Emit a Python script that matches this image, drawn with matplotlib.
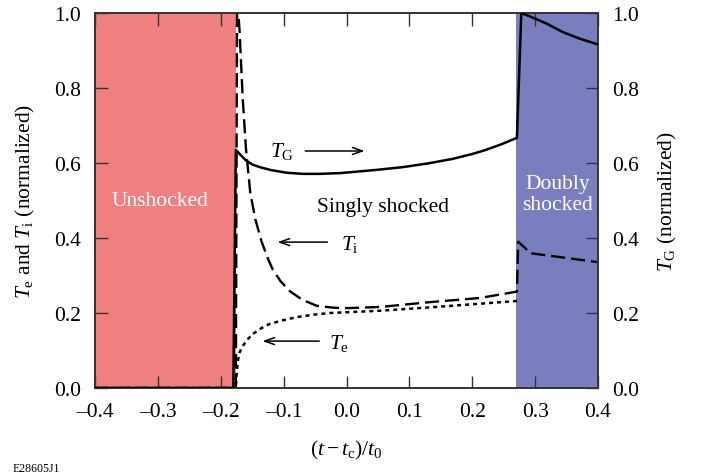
import matplotlib
matplotlib.use("Agg")
import matplotlib.pyplot as plt

plt.rcParams['font.family'] = ['Liberation Serif', 'DejaVu Serif']
plt.rcParams['mathtext.fontset'] = 'custom'
plt.rcParams['mathtext.rm'] = 'Liberation Serif'
plt.rcParams['mathtext.it'] = 'Liberation Serif:italic'

# region boundaries (normalized time)
shock1 = -0.176
shock2 = 0.270

# T_G (right axis)
tg_x = [-0.4, -0.180, -0.176, -0.170, -0.160, -0.150, -0.138, -0.120, -0.095, -0.070, -0.042,
        -0.010, 0.010, 0.050, 0.090, 0.130, 0.169, 0.200, 0.220, 0.245, 0.271, 0.278, 0.300,
        0.319, 0.344, 0.370, 0.398]
tg_y = [0.0, 0.0, 0.635, 0.624, 0.607, 0.596, 0.589, 0.581, 0.574, 0.571, 0.571,
        0.573, 0.576, 0.582, 0.589, 0.599, 0.611, 0.624, 0.634, 0.649, 0.667, 1.0, 0.985,
        0.971, 0.949, 0.932, 0.917]

# T_i (left axis)
ti_x = [-0.4, -0.176, -0.174, -0.170, -0.165, -0.160, -0.153, -0.145, -0.135, -0.125, -0.117,
        -0.105, -0.090, -0.070, -0.047, -0.020, 0.001, 0.053, 0.133, 0.212, 0.271, 0.273,
        0.285, 0.290, 0.398]
ti_y = [0.0, 0.0, 1.05, 0.95, 0.77, 0.64, 0.52, 0.45, 0.39, 0.345, 0.315,
        0.285, 0.258, 0.235, 0.219, 0.214, 0.213, 0.216, 0.229, 0.240, 0.257, 0.39,
        0.372, 0.360, 0.336]

# T_e (left axis)
te_x = [-0.4, -0.176, -0.175, -0.173, -0.170, -0.165, -0.157, -0.149, -0.135, -0.122, -0.100,
        -0.079, -0.050, -0.026, 0.053, 0.133, 0.271]
te_y = [0.0, 0.0, 0.030, 0.070, 0.095, 0.112, 0.130, 0.144, 0.160, 0.171, 0.181,
        0.189, 0.196, 0.200, 0.206, 0.215, 0.232]

xticks = [-0.4, -0.3, -0.2, -0.1, 0.0, 0.1, 0.2, 0.3, 0.4]
xticklabels = ['\u20130.4', '\u20130.3', '\u20130.2', '\u20130.1', '0.0', '0.1', '0.2', '0.3', '0.4']
yticks = [0.0, 0.2, 0.4, 0.6, 0.8, 1.0]

fs = 15.5
fig = plt.figure(figsize=(7.11, 4.77), dpi=100)
ax = fig.add_axes([0.1336, 0.1845, 0.7075, 0.7862])

ax.axvspan(-0.4, shock1, color='#f07f80', lw=0, zorder=0)
ax.axvspan(shock2, 0.4, color='#7a7ebe', lw=0, zorder=0)

ax.plot(ti_x, ti_y, color='black', lw=1.7, dashes=(6, 2.5), zorder=3)
ax.plot(te_x, te_y, color='black', lw=1.8, dashes=(1.6, 1.6), zorder=3)

ax2 = ax.twinx()
ax2.plot(tg_x, tg_y, color='black', lw=1.8, zorder=3)

for a in (ax, ax2):
    a.set_xlim(-0.4, 0.4)
    a.set_ylim(0, 1)
    a.set_yticks(yticks)
    a.set_yticklabels(['%.1f' % v for v in yticks], fontsize=fs)
    for s in a.spines.values():
        s.set_color('#333333')
        s.set_linewidth(1.2)

ax.set_xticks(xticks)
ax.set_xticklabels(xticklabels, fontsize=fs)
ax.tick_params(axis='both', direction='in', length=9, width=1, color='#333333',
               top=True, pad=10)
ax2.tick_params(axis='y', direction='in', length=9, width=1, color='#333333', pad=10)

ax.set_ylabel(r'$T_{\rm e}$ and $T_{\rm i}$ (normalized)', fontsize=fs, labelpad=12)
ax2.set_ylabel(r'$T_{\rm G}$ (normalized)', fontsize=fs, labelpad=12)
ax.set_xlabel(r'$(t - t_{\rm c})/t_0$', fontsize=fs, labelpad=12)

ax.text(-0.297, 0.50, 'Unshocked', color='white', fontsize=fs, ha='center', va='center')
ax.text(0.058, 0.485, 'Singly shocked', color='black', fontsize=fs, ha='center', va='center')
ax.text(0.336, 0.517, 'Doubly\nshocked', color='white', fontsize=fs, ha='center', va='center',
        linespacing=1.1)

arrow = dict(arrowstyle='->,head_length=0.7,head_width=0.25', lw=1.1, color='black')
ax.annotate('', xy=(0.033, 0.632), xytext=(-0.070, 0.632), arrowprops=arrow)
ax.text(-0.103, 0.632, r'$T_{\rm G}$', fontsize=fs, ha='center', va='center')
ax.annotate('', xy=(-0.114, 0.389), xytext=(-0.026, 0.389), arrowprops=arrow)
ax.text(0.005, 0.385, r'$T_{\rm i}$', fontsize=fs, ha='center', va='center')
ax.annotate('', xy=(-0.138, 0.125), xytext=(-0.039, 0.125), arrowprops=arrow)
ax.text(-0.012, 0.12, r'$T_{\rm e}$', fontsize=fs, ha='center', va='center')

fig.text(0.018, 0.004, 'E28605J1', fontsize=8.5, ha='left', va='bottom')

fig.savefig('out.png', dpi=100)
